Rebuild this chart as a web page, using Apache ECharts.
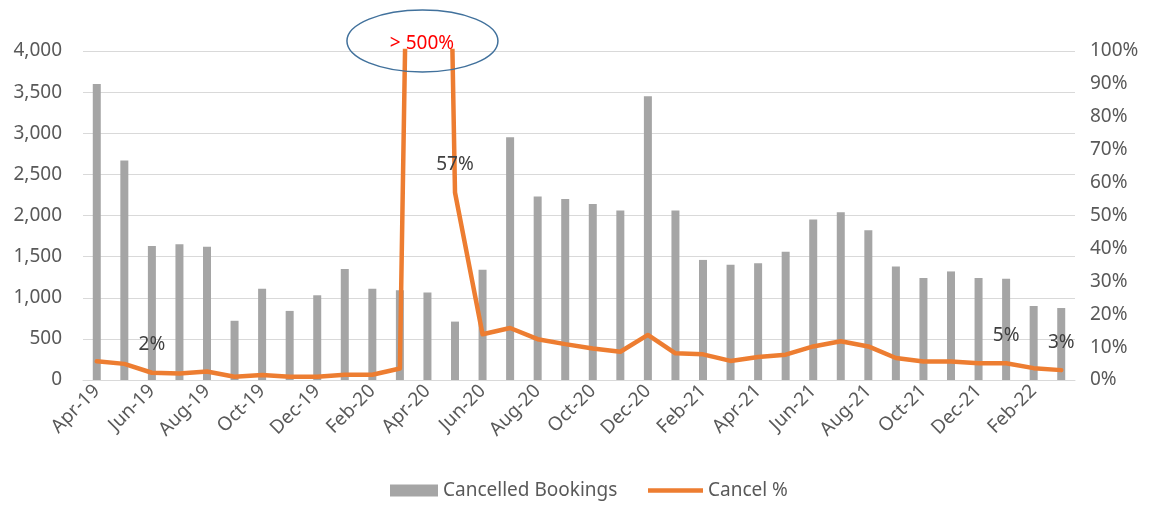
<!DOCTYPE html>
<html>
<head>
<meta charset="utf-8">
<title>Cancelled Bookings and Cancel %</title>
<script src="https://cdn.jsdelivr.net/npm/echarts@6/dist/echarts.min.js"></script>
<style>
  html, body { margin: 0; padding: 0; background: #ffffff; }
  #chart { width: 1152px; height: 508px; }
</style>
</head>
<body>
<div id="chart"></div>
<script>
// Monthly categories, Apr-19 through Mar-22
const months = [
  'Apr-19','May-19','Jun-19','Jul-19','Aug-19','Sep-19','Oct-19','Nov-19','Dec-19','Jan-20','Feb-20','Mar-20',
  'Apr-20','May-20','Jun-20','Jul-20','Aug-20','Sep-20','Oct-20','Nov-20','Dec-20','Jan-21','Feb-21','Mar-21',
  'Apr-21','May-21','Jun-21','Jul-21','Aug-21','Sep-21','Oct-21','Nov-21','Dec-21','Jan-22','Feb-22','Mar-22'
];

// Number of cancelled bookings per month
const cancelledBookings = [
  3600, 2670, 1630, 1650, 1620, 720, 1110, 840, 1030, 1350, 1110, 1090,
  1065, 710, 1340, 2950, 2230, 2200, 2140, 2060, 3450, 2060, 1460, 1400,
  1420, 1560, 1950, 2040, 1820, 1380, 1240, 1320, 1240, 1230, 900, 875
];

// Cancellation rate in percent (Apr-20 runs far off the 0-100% scale)
const cancelPct = [
  5.7, 4.9, 2.2, 2.0, 2.6, 1.0, 1.5, 1.0, 1.0, 1.6, 1.6, 3.5,
  520, 57, 13.9, 15.8, 12.4, 10.9, 9.6, 8.6, 13.7, 8.1, 7.8, 5.8,
  7.0, 7.7, 10.2, 11.8, 10.2, 6.7, 5.6, 5.6, 5.1, 5.1, 3.6, 3.0
];

// Months whose rate is written on the line
const labelledMonths = ['Jun-19', 'May-20', 'Jan-22', 'Mar-22'];

// Call-out for the off-scale spike
const spikeMonth = 'Apr-20';
const spikeText = '> 500%';

// Axis tick settings
const bookingsTicks = { min: 0, max: 4000, interval: 500 };
const pctTicks = { min: 0, max: 100, interval: 10 };

const FONT = 'Noto Sans';
const AXIS_TEXT = '#595959';
const BAR_COLOR = '#A5A5A5';
const LINE_COLOR = '#ED7D31';

const chart = echarts.init(document.getElementById('chart'), null, { renderer: 'canvas' });

const lineData = cancelPct.map((v, i) => {
  if (labelledMonths.indexOf(months[i]) >= 0) {
    return { value: v, label: { show: true } };
  }
  return v;
});

const legendText = { fontFamily: FONT, fontSize: 19, color: AXIS_TEXT };

chart.setOption({
  animation: false,
  textStyle: { fontFamily: FONT },
  grid: { left: 83, right: 77, top: 51, bottom: 128 },
  legend: [
    {
      left: 385,
      top: 476,
      itemWidth: 48,
      itemHeight: 12,
      textStyle: legendText,
      data: [{ name: 'Cancelled Bookings', icon: 'rect' }]
    },
    {
      left: 643,
      top: 476,
      itemWidth: 55,
      itemHeight: 4.5,
      textStyle: legendText,
      data: [{ name: 'Cancel %', icon: 'rect' }]
    }
  ],
  xAxis: {
    type: 'category',
    data: months,
    boundaryGap: true,
    axisLine: { show: true, lineStyle: { color: '#D9D9D9', width: 1 } },
    axisTick: { show: false },
    axisLabel: {
      interval: 1,
      rotate: 45,
      margin: 8,
      fontFamily: FONT,
      fontSize: 19,
      color: AXIS_TEXT
    }
  },
  yAxis: [
    {
      type: 'value',
      min: bookingsTicks.min,
      max: bookingsTicks.max,
      interval: bookingsTicks.interval,
      axisLine: { show: false },
      axisTick: { show: false },
      splitLine: { show: true, lineStyle: { color: '#D9D9D9', width: 1 } },
      axisLabel: {
        margin: 21,
        fontFamily: FONT,
        fontSize: 19,
        color: AXIS_TEXT,
        formatter: v => v.toLocaleString('en-US')
      }
    },
    {
      type: 'value',
      min: pctTicks.min,
      max: pctTicks.max,
      interval: pctTicks.interval,
      axisLine: { show: false },
      axisTick: { show: false },
      splitLine: { show: false },
      axisLabel: {
        margin: 15,
        fontFamily: FONT,
        fontSize: 19,
        color: AXIS_TEXT,
        formatter: '{value}%'
      }
    }
  ],
  series: [
    {
      name: 'Cancelled Bookings',
      type: 'bar',
      yAxisIndex: 0,
      data: cancelledBookings,
      barWidth: 8,
      itemStyle: { color: BAR_COLOR },
      z: 2
    },
    {
      name: 'Cancel %',
      type: 'line',
      yAxisIndex: 1,
      data: lineData,
      symbol: 'circle',
      symbolSize: 1,
      showSymbol: true,
      clip: true,
      lineStyle: { color: LINE_COLOR, width: 4.5, join: 'round', cap: 'round' },
      itemStyle: { color: LINE_COLOR },
      label: {
        show: false,
        position: 'top',
        distance: 18,
        fontFamily: FONT,
        fontSize: 19,
        color: '#404040',
        formatter: p => Math.round(p.value) + '%'
      },
      z: 3
    }
  ]
});

// Place the spike call-out at the top of the plot above its month
const spikeX = chart.convertToPixel({ xAxisIndex: 0 }, spikeMonth);
const topY = chart.convertToPixel({ yAxisIndex: 1 }, pctTicks.max);

chart.setOption({
  graphic: [
    {
      type: 'ellipse',
      shape: { cx: spikeX - 5, cy: topY - 10, rx: 75.5, ry: 31 },
      style: { fill: 'none', stroke: '#41719C', lineWidth: 1.5 },
      z: 10
    },
    {
      type: 'text',
      x: spikeX - 5.5,
      y: topY - 7,
      style: {
        text: spikeText,
        fill: '#FF0000',
        font: '19px "' + FONT + '"',
        align: 'center',
        verticalAlign: 'middle'
      },
      z: 11
    }
  ]
});
</script>
</body>
</html>
